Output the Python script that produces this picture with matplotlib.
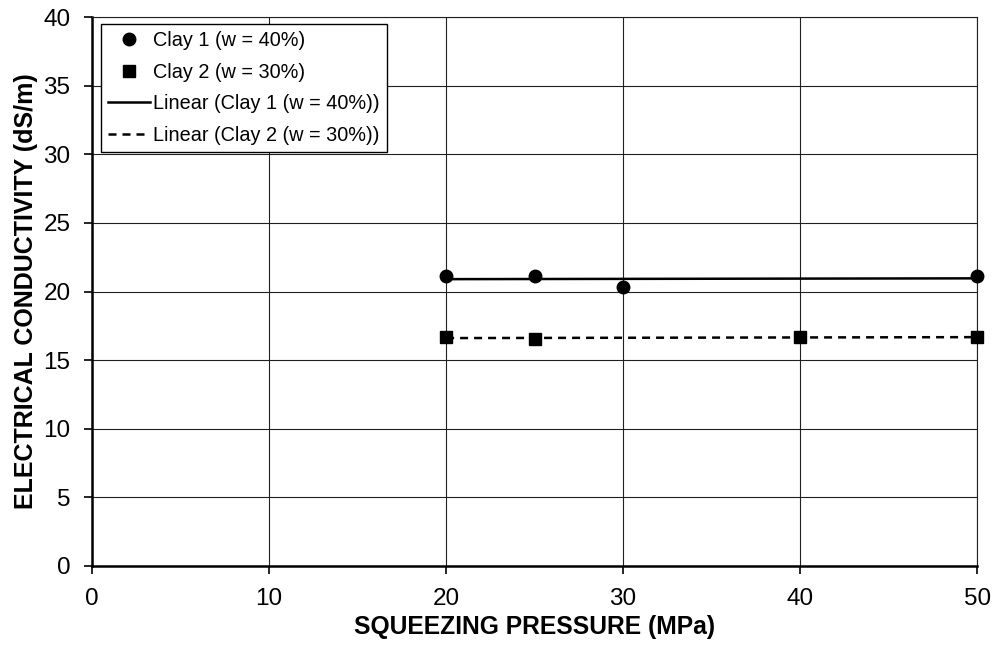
import numpy as np
import matplotlib
matplotlib.use("Agg")
import matplotlib.pyplot as plt

plt.rcParams['font.family'] = ['Liberation Sans', 'DejaVu Sans']

# data
clay1_x = [20, 25, 30, 50]
clay1_y = [21.13, 21.13, 20.31, 21.13]
clay2_x = [20, 25, 40, 50]
clay2_y = [16.66, 16.54, 16.70, 16.66]

x_ticks = [0, 10, 20, 30, 40, 50]
y_ticks = [0, 5, 10, 15, 20, 25, 30, 35, 40]

fig = plt.figure(figsize=(9.93, 6.45), dpi=100)
ax = fig.add_axes([0.0927, 0.1225, 0.8913, 0.851])

# linear trendlines (least squares, like Excel)
for xs, ys, ls, lab in [(clay1_x, clay1_y, '-', 'Linear (Clay 1 (w = 40%))'),
                        (clay2_x, clay2_y, '--', 'Linear (Clay 2 (w = 30%))')]:
    p = np.polyfit(xs, ys, 1)
    xx = np.array([min(xs), max(xs)])
    ax.plot(xx, np.polyval(p, xx), color='black', ls=ls, lw=1.8,
            dashes=(3.2, 2.4) if ls == '--' else (None, None), label=lab, zorder=3)

ax.plot(clay1_x, clay1_y, 'o', color='black', ms=9, label='Clay 1 (w = 40%)', zorder=4, clip_on=False)
ax.plot(clay2_x, clay2_y, 's', color='black', ms=8.5, label='Clay 2 (w = 30%)', zorder=4, clip_on=False)

ax.set_xlim(0, 50)
ax.set_ylim(0, 40)
ax.set_xticks(x_ticks)
ax.set_yticks(y_ticks)
ax.grid(True, color='#202020', lw=0.8)
ax.set_axisbelow(True)
ax.tick_params(direction='out', length=5.5, width=1.2, labelsize=17.5)
ax.tick_params(axis='x', pad=10)
ax.tick_params(axis='y', pad=10)

ax.spines['left'].set_linewidth(1.8)
ax.spines['bottom'].set_linewidth(1.8)
for s in ['top', 'right']:
    ax.spines[s].set_color('#202020')
    ax.spines[s].set_linewidth(0.8)

ax.set_xlabel('SQUEEZING PRESSURE (MPa)', fontsize=17.7, fontweight='bold', labelpad=4)
ax.set_ylabel('ELECTRICAL CONDUCTIVITY (dS/m)', fontsize=18, fontweight='bold', labelpad=4)

handles, labels = ax.get_legend_handles_labels()
order = [2, 3, 0, 1]
leg = ax.legend([handles[i] for i in order], [labels[i] for i in order],
                loc='upper left', bbox_to_anchor=(0.0105, 0.987), fontsize=14.3,
                frameon=True, fancybox=False, edgecolor='black', framealpha=1,
                numpoints=1, handlelength=2.1, handletextpad=0.15,
                borderpad=0.35, labelspacing=0.63, borderaxespad=0)
leg.get_frame().set_linewidth(1.0)

fig.savefig('out.png', dpi=100)
